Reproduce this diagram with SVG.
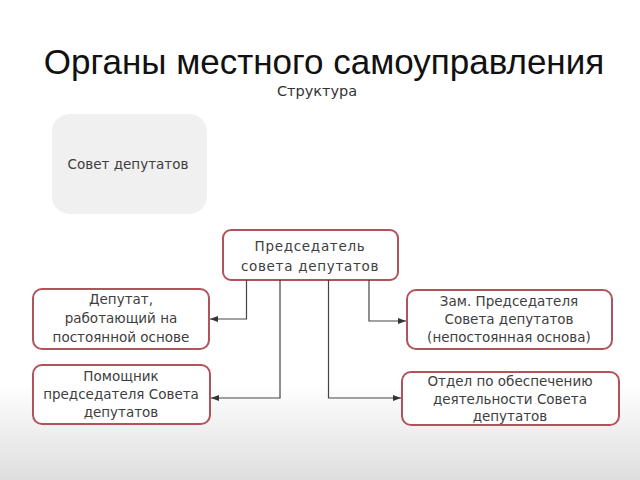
<svg xmlns="http://www.w3.org/2000/svg" width="640" height="480" viewBox="0 0 640 480">
  <defs>
    <linearGradient id="bg" x1="0" y1="0" x2="0" y2="1">
      <stop offset="0" stop-color="#ffffff"/>
      <stop offset="0.8" stop-color="#ffffff"/>
      <stop offset="1" stop-color="#dedede"/>
    </linearGradient>
    <marker id="arr" viewBox="0 0 8 6" refX="8" refY="3" markerWidth="8" markerHeight="6" markerUnits="userSpaceOnUse" orient="auto">
      <path d="M0,0 L8,3 L0,6 Z" fill="#333"/>
    </marker>
    <style>
      .box { fill: #ffffff; stroke: #b2525a; stroke-width: 2; }
      .t { font-family: "DejaVu Sans", "Liberation Sans", sans-serif; font-size: 13.5px; fill: #3e3e3e; text-anchor: middle; }
      .c { fill: none; stroke: #444; stroke-width: 1.2; marker-end: url(#arr); }
    </style>
  </defs>
  <rect x="0" y="0" width="640" height="480" fill="url(#bg)"/>

  <text x="324" y="74" font-family="Liberation Sans, Arial, sans-serif" font-size="35" fill="#111" text-anchor="middle">Органы местного самоуправления</text>
  <text x="317" y="96" font-family="DejaVu Sans, sans-serif" font-size="14.5" fill="#333" text-anchor="middle">Структура</text>

  <g id="sovet">
    <rect x="52" y="114" width="155" height="100" rx="18" fill="#f0f0f0"/>
    <text class="t" x="128" y="169" font-size="15.5">Совет депутатов</text>
  </g>

  <g id="chair">
    <rect class="box" x="223" y="230" width="175" height="50" rx="8"/>
    <text class="t" x="310" y="251" font-size="15" letter-spacing="0.7">Председатель</text>
    <text class="t" x="310" y="271" font-size="15" letter-spacing="0.7">совета депутатов</text>
  </g>

  <g id="deputat">
    <rect class="box" x="33" y="289" width="176" height="60" rx="9"/>
    <text class="t" x="121" y="304">Депутат,</text>
    <text class="t" x="121" y="323">работающий на</text>
    <text class="t" x="121" y="342">постоянной основе</text>
  </g>

  <g id="pomoshnik">
    <rect class="box" x="33" y="365" width="177" height="59" rx="9"/>
    <text class="t" x="121" y="381">Помощник</text>
    <text class="t" x="121" y="399">председателя Совета</text>
    <text class="t" x="121" y="417">депутатов</text>
  </g>

  <g id="zam">
    <rect class="box" x="407" y="290" width="205" height="59" rx="9"/>
    <text class="t" x="509" y="306">Зам. Председателя</text>
    <text class="t" x="509" y="324">Совета депутатов</text>
    <text class="t" x="509" y="342">(непостоянная основа)</text>
  </g>

  <g id="otdel">
    <rect class="box" x="402" y="372" width="217" height="53" rx="9"/>
    <text class="t" x="510" y="386">Отдел по обеспечению</text>
    <text class="t" x="510" y="404">деятельности Совета</text>
    <text class="t" x="510" y="421">депутатов</text>
  </g>

  <g id="connectors">
    <polyline class="c" points="246.5,280 246.5,319 210,319"/>
    <polyline class="c" points="280,280 280,398 211,398"/>
    <polyline class="c" points="328.5,280 328.5,398 401,398"/>
    <polyline class="c" points="369,280 369,321 406,321"/>
  </g>
</svg>
